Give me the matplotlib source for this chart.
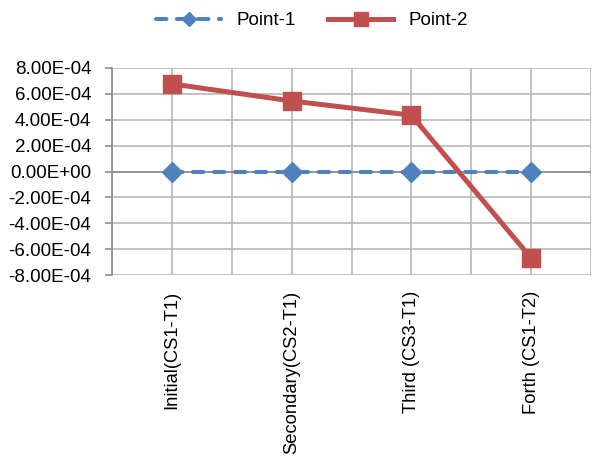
import matplotlib
matplotlib.use("Agg")
import matplotlib.pyplot as plt
from matplotlib.ticker import FixedLocator, FuncFormatter

categories = ["Initial(CS1-T1)", "Secondary(CS2-T1)", "Third (CS3-T1)", "Forth (CS1-T2)"]
point1 = [0.0, 0.0, 0.0, 0.0]
point2 = [6.77e-4, 5.45e-4, 4.35e-4, -6.69e-4]
y_ticks = [-8e-4, -6e-4, -4e-4, -2e-4, 0.0, 2e-4, 4e-4, 6e-4, 8e-4]

plt.rcParams["font.family"] = ["Liberation Sans", "DejaVu Sans"]

BLUE = "#4F81BD"
RED = "#C0504D"
GRID = "#B8B8B8"
AXIS = "#8C8C8C"

fig = plt.figure(figsize=(5.94, 4.57), dpi=100)
ax = fig.add_axes([112 / 594, 1 - 275 / 457, (591 - 112) / 594, (275 - 68) / 457])

x = list(range(len(categories)))
ax.plot(x, point1, color=BLUE, lw=2.9, linestyle=(0, (2.6, 2.6)),
        dash_capstyle="round", marker="D", ms=10.5, mec=BLUE, mfc=BLUE,
        label="Point-1", zorder=3)
ax.plot(x, point2, color=RED, lw=3.6, marker="s", ms=13.5, mec=RED, mfc=RED,
        solid_joinstyle="miter", label="Point-2", zorder=4)

ax.set_xlim(-0.5, len(categories) - 0.5)
ax.set_ylim(-8e-4, 8e-4)

ax.yaxis.set_major_locator(FixedLocator(y_ticks))
ax.yaxis.set_major_formatter(FuncFormatter(
    lambda v, p: "0.00E+00" if abs(v) < 1e-12 else "%.2E" % v))
ax.set_xticks(x)
ax.set_xticklabels(categories, rotation=90, fontsize=13.2)
ax.set_xticks([i - 0.5 for i in range(len(categories) + 1)], minor=True)

ax.grid(True, which="major", color=GRID, lw=1.2, zorder=0)
ax.grid(True, which="minor", axis="x", color=GRID, lw=1.2, zorder=0)
ax.set_axisbelow(True)
ax.axhline(0, color=AXIS, lw=1.2, zorder=1)

for side in ("top", "right", "bottom"):
    ax.spines[side].set_visible(False)
ax.spines["left"].set_color(AXIS)
ax.spines["left"].set_linewidth(1.2)

ax.tick_params(axis="y", length=5, width=1.2, color=AXIS,
               labelsize=13.5, pad=10, labelcolor="black")
ax.tick_params(axis="x", which="both", length=0, pad=11, labelcolor="black")

leg = fig.legend(loc="upper center", bbox_to_anchor=(0.525, 1.01), ncol=2,
                 frameon=False, fontsize=13.5, handlelength=3.5,
                 columnspacing=1.7, handletextpad=0.8, markerscale=0.7)

fig.savefig("out.png", dpi=100)
